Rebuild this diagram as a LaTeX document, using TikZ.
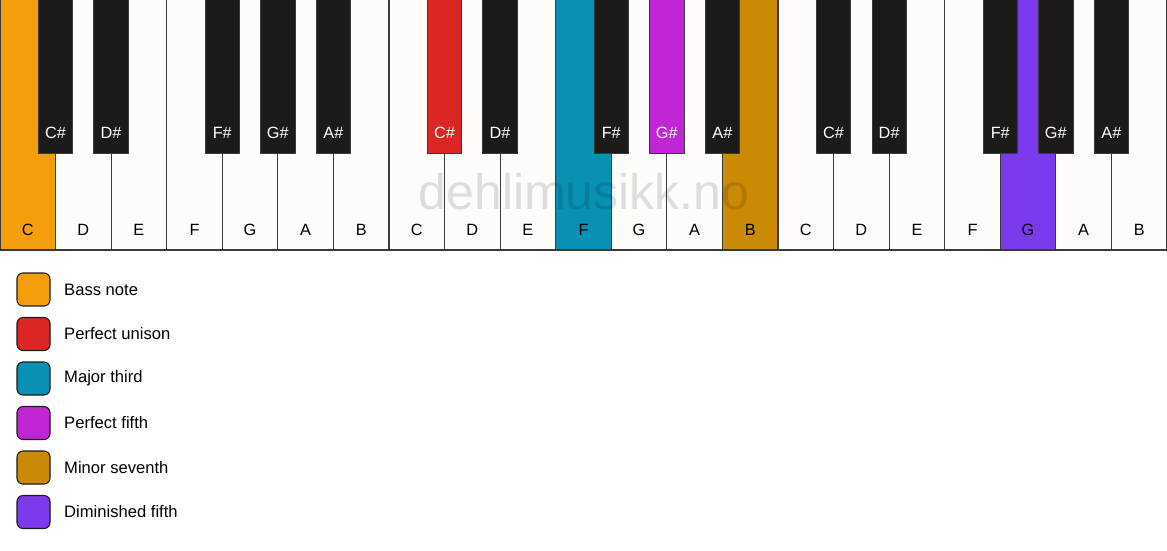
\documentclass[tikz,border=0pt]{standalone}
\usepackage{fontspec}
\setmainfont{Liberation Sans}
\definecolor{wkey}{HTML}{FDFCFA}
\definecolor{bkey}{HTML}{1C1B1A}
\definecolor{keyline}{HTML}{3A3A3A}
\definecolor{bass}{HTML}{F59E0B}
\definecolor{unison}{HTML}{DC2626}
\definecolor{third}{HTML}{0891B2}
\definecolor{fifth}{HTML}{C026D3}
\definecolor{seventh}{HTML}{CA8A04}
\definecolor{dimfifth}{HTML}{7C3AED}
\tikzset{
  whitekey/.style={draw=keyline, line width=1.1pt},
  blackkey/.style={draw=keyline, line width=0.8pt},
  wlabel/.style={font=\fontsize{16.3}{19}\selectfont, text=black, inner sep=0pt},
  blabel/.style={font=\fontsize{16.3}{19}\selectfont, inner sep=0pt},
  legbox/.style={draw=bkey, line width=1.1pt, rounded corners=6pt, minimum size=33pt, inner sep=0pt},
  legtext/.style={font=\fontsize{16.6}{19}\selectfont, anchor=west, inner sep=0pt, text=black},
  watermark/.style={font=\fontsize{50}{50}\selectfont, text=black, opacity=0.12, inner sep=0pt}
}
\begin{document}
\begin{tikzpicture}[x=1pt,y=-1pt]
\useasboundingbox (0,0) rectangle (1167,550);
\fill[white] (0,0) rectangle (1167,550);
\def\kw{55.5714}
% white keys
\foreach \i/\n/\c in {0/C/bass,1/D/wkey,2/E/wkey,3/F/wkey,4/G/wkey,5/A/wkey,6/B/wkey,
  7/C/wkey,8/D/wkey,9/E/wkey,10/F/third,11/G/wkey,12/A/wkey,13/B/seventh,
  14/C/wkey,15/D/wkey,16/E/wkey,17/F/wkey,18/G/dimfifth,19/A/wkey,20/B/wkey}{
  \draw[whitekey, fill=\c] ({\i*\kw},-2) rectangle ({(\i+1)*\kw},250);
  \node[wlabel] (w\i) at ({(\i+0.5)*\kw},230) {\n};
}
\draw[keyline, line width=1.6pt] (0,250) -- (1167,250);
% watermark
\node[watermark] (wm) at (584,191.5) {dehlimusikk.no};
% black keys
\foreach \b/\n/\c in {1/C\#/bkey,2/D\#/bkey,4/F\#/bkey,5/G\#/bkey,6/A\#/bkey,
  8/C\#/unison,9/D\#/bkey,11/F\#/bkey,12/G\#/fifth,13/A\#/bkey,
  15/C\#/bkey,16/D\#/bkey,18/F\#/bkey,19/G\#/bkey,20/A\#/bkey}{
  \draw[blackkey, fill=\c] ({\b*\kw-17.25},-2) rectangle ({\b*\kw+17.25},153);
  \node[blabel, text=white] (b\b) at ({\b*\kw},133) {\n};
}
% legend
\foreach \k/\c/\t in {0/bass/Bass note,1/unison/Perfect unison,2/third/Major third,
  3/fifth/Perfect fifth,4/seventh/Minor seventh,5/dimfifth/Diminished fifth}{
  \node[legbox, fill=\c] (lb\k) at (33.5,{289.5+\k*44.5}) {};
  \node[legtext] (lt\k) at (64,{289.5+\k*44.5}) {\t};
}
\end{tikzpicture}
\end{document}
